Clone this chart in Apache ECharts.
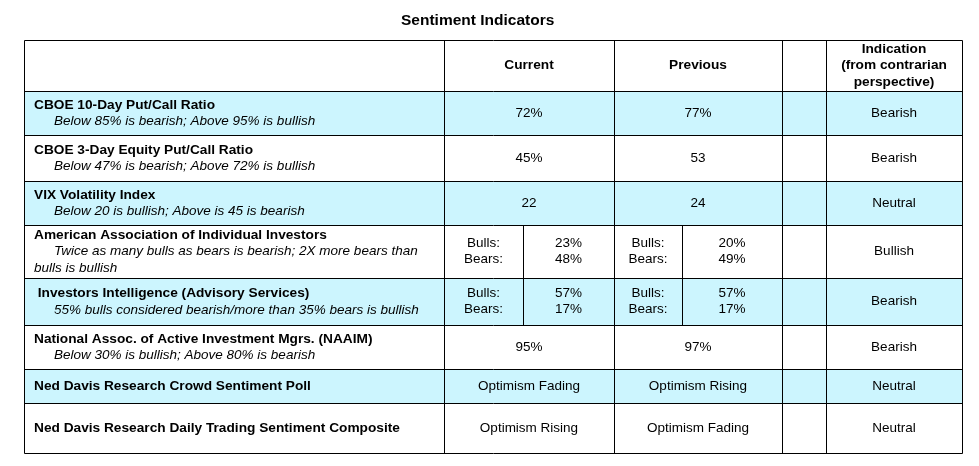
<!DOCTYPE html>
<html>
<head>
<meta charset="utf-8">
<script src="https://cdn.jsdelivr.net/npm/echarts@6/dist/echarts.min.js"></script>
<style>
  html, body { margin: 0; padding: 0; background: #ffffff; }
  #chart { width: 979px; height: 466px; }
</style>
</head>
<body>
<div id="chart"></div>
<script>
// ---------------- DATA ----------------
const chartTitle = 'Sentiment Indicators';
const headerLabels = ['', 'Current', 'Previous', '', 'Indication\n(from contrarian\nperspective)'];
const indicatorNames = [
  'CBOE 10-Day Put/Call Ratio',
  'CBOE 3-Day Equity Put/Call Ratio',
  'VIX Volatility Index',
  'American Association of Individual Investors',
  ' Investors Intelligence (Advisory Services)',
  'National Assoc. of Active Investment Mgrs. (NAAIM)',
  'Ned Davis Research Crowd Sentiment Poll',
  'Ned Davis Research Daily Trading Sentiment Composite'
];
const indicatorRules = [
  'Below 85% is bearish; Above 95% is bullish',
  'Below 47% is bearish; Above 72% is bullish',
  'Below 20 is bullish; Above is 45 is bearish',
  'Twice as many bulls as bears is bearish; 2X more bears than\nbulls is bullish',
  '55% bulls considered bearish/more than 35% bears is bullish',
  'Below 30% is bullish; Above 80% is bearish',
  '',
  ''
];
const currentValues  = ['72%', '45%', '22', '', '', '95%', 'Optimism Fading', 'Optimism Rising'];
const previousValues = ['77%', '53', '24', '', '', '97%', 'Optimism Rising', 'Optimism Fading'];
const splitLabels = ['Bulls:', 'Bears:'];
const currentBulls  = ['', '', '', '23%', '57%', '', '', ''];
const currentBears  = ['', '', '', '48%', '17%', '', '', ''];
const previousBulls = ['', '', '', '20%', '57%', '', '', ''];
const previousBears = ['', '', '', '49%', '17%', '', '', ''];
const indications = ['Bearish', 'Bearish', 'Neutral', 'Bullish', 'Bearish', 'Bearish', 'Neutral', 'Neutral'];

// ---------------- LAYOUT (table units) ----------------
const COL = [0, 420, 499, 590, 658, 758, 802, 938];
const ROW = [0, 51, 95, 141, 185, 238, 285, 329, 363, 413];
const FONT_FAMILY = "'Liberation Sans', Arial, Helvetica, sans-serif";
const FS = 13.5;
const FS_BOLD = 13.7;
const LH = 16.5;
const SHADE = '#ccf5fe';

// ---------------- BUILD CELLS ----------------
const cells = [];
function addCell(c0, c1, r, lines, align) {
  cells.push({ x0: COL[c0], x1: COL[c1], y0: ROW[r], y1: ROW[r + 1], lines: lines, align: align || 'center' });
}
// header
headerLabels.forEach(function (h, i) {
  if (!h) return;
  const colMap = [[0, 1], [1, 3], [3, 5], [5, 6], [6, 7]][i];
  addCell(colMap[0], colMap[1], 0, h.split('\n').map(function (t) { return { text: t, weight: 'bold' }; }));
});
// body
indicatorNames.forEach(function (name, i) {
  const r = i + 1;
  const lines = [{ text: name, weight: 'bold', indent: 10 }];
  if (indicatorRules[i]) {
    indicatorRules[i].split('\n').forEach(function (t, k) {
      lines.push({ text: t, style: 'italic', indent: k === 0 ? 30 : 10 });
    });
  }
  addCell(0, 1, r, lines, 'left');
  if (currentValues[i]) addCell(1, 3, r, [{ text: currentValues[i] }]);
  else {
    addCell(1, 2, r, splitLabels.map(function (t) { return { text: t }; }));
    addCell(2, 3, r, [{ text: currentBulls[i] }, { text: currentBears[i] }]);
  }
  if (previousValues[i]) addCell(3, 5, r, [{ text: previousValues[i] }]);
  else {
    addCell(3, 4, r, splitLabels.map(function (t) { return { text: t }; }));
    addCell(4, 5, r, [{ text: previousBulls[i] }, { text: previousBears[i] }]);
  }
  addCell(6, 7, r, [{ text: indications[i] }]);
});

// grid lines
const lineSegs = [];
ROW.forEach(function (y) { lineSegs.push([COL[0], y, COL[COL.length - 1], y]); });
[0, 1, 3, 5, 6, 7].forEach(function (c) { lineSegs.push([COL[c], ROW[0], COL[c], ROW[ROW.length - 1]]); });
indicatorNames.forEach(function (n, i) {
  if (!currentValues[i]) lineSegs.push([COL[2], ROW[i + 1], COL[2], ROW[i + 2]]);
  if (!previousValues[i]) lineSegs.push([COL[4], ROW[i + 1], COL[4], ROW[i + 2]]);
});

// ---------------- RENDER ----------------
function crisp(v) { return Math.round(v) + 0.5; }

function renderFill(params, api) {
  const i = params.dataIndex;
  const p0 = api.coord([COL[0], ROW[i + 1]]);
  const p1 = api.coord([COL[COL.length - 1], ROW[i + 2]]);
  return {
    type: 'rect',
    shape: { x: p0[0], y: p0[1], width: p1[0] - p0[0], height: p1[1] - p0[1] },
    style: { fill: i % 2 === 0 ? SHADE : '#ffffff' }
  };
}

function renderLine(params, api) {
  const s = lineSegs[params.dataIndex];
  const a = api.coord([s[0], s[1]]);
  const b = api.coord([s[2], s[3]]);
  return {
    type: 'line',
    shape: { x1: crisp(a[0]), y1: crisp(a[1]), x2: crisp(b[0]), y2: crisp(b[1]) },
    style: { stroke: '#000000', lineWidth: 1 }
  };
}

function renderText(params, api) {
  const c = cells[params.dataIndex];
  const p0 = api.coord([c.x0, c.y0]);
  const p1 = api.coord([c.x1, c.y1]);
  const cy = (p0[1] + p1[1]) / 2;
  const n = c.lines.length;
  const children = c.lines.map(function (ln, k) {
    return {
      type: 'text',
      x: c.align === 'left' ? p0[0] + (ln.indent || 0) : (p0[0] + p1[0]) / 2,
      y: cy + (k - (n - 1) / 2) * LH,
      style: {
        text: ln.text,
        fill: '#000000',
        fontFamily: FONT_FAMILY,
        fontSize: ln.weight === 'bold' ? FS_BOLD : FS,
        fontWeight: ln.weight || 'normal',
        fontStyle: ln.style || 'normal',
        align: c.align,
        verticalAlign: 'middle'
      }
    };
  });
  return { type: 'group', children: children };
}

const chart = echarts.init(document.getElementById('chart'), null, { renderer: 'canvas' });
chart.setOption({
  animation: false,
  backgroundColor: '#ffffff',
  title: {
    text: chartTitle,
    left: 401,
    top: 12,
    padding: 0,
    textStyle: { fontFamily: FONT_FAMILY, fontSize: 15.5, fontWeight: 'bold', color: '#000000', lineHeight: 18 }
  },
  grid: { left: 24, right: 17, top: 40, bottom: 13 },
  xAxis: { type: 'value', min: COL[0], max: COL[COL.length - 1], show: false },
  yAxis: { type: 'value', min: ROW[0], max: ROW[ROW.length - 1], inverse: true, show: false },
  series: [
    { type: 'custom', renderItem: renderFill, data: indicatorNames.map(function (n, i) { return [i]; }), z: 1, silent: true },
    { type: 'custom', renderItem: renderLine, data: lineSegs.map(function (s, i) { return [i]; }), z: 2, silent: true },
    { type: 'custom', renderItem: renderText, data: cells.map(function (c, i) { return [i]; }), z: 3, silent: true }
  ]
});
</script>
</body>
</html>
